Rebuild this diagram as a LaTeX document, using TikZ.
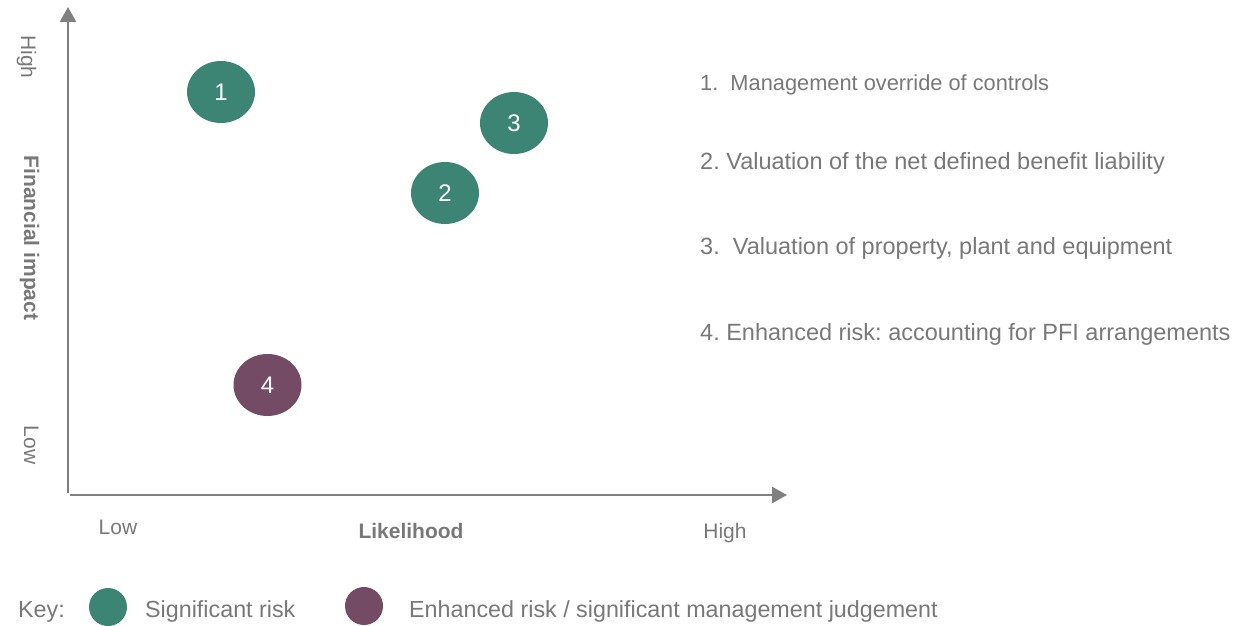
\documentclass[tikz,border=0pt]{standalone}
\usepackage{fontspec}
\setmainfont{Liberation Sans}
\frenchspacing
\usetikzlibrary{shapes.geometric,arrows.meta}
\definecolor{teal}{HTML}{3C8474}
\definecolor{plum}{HTML}{734B65}
\definecolor{txt}{HTML}{787878}
\definecolor{axis}{HTML}{808080}
\begin{document}
\begin{tikzpicture}[x=1pt,y=-1pt,
  lbl/.style={text=txt,font=\fontsize{21}{25}\selectfont,inner sep=0pt},
  item/.style={lbl,anchor=base west,font=\fontsize{23.5}{27}\selectfont},
  keytxt/.style={lbl,anchor=base west,font=\fontsize{23.3}{27}\selectfont},
  vlbl/.style={lbl,rotate=-90,anchor=base},
  risk/.style={ellipse,minimum width=68pt,minimum height=62pt,inner sep=0pt,text=white,font=\fontsize{24}{28}\selectfont},
  sig/.style={risk,fill=teal},
  enh/.style={risk,fill=plum},
  keydot/.style={circle,minimum size=38pt,inner sep=0pt},
  axisline/.style={draw=axis,line width=2.6pt,-{Triangle[length=15pt,width=16pt]}}]
\useasboundingbox (0,0) rectangle (1242,626);
% axes
\coordinate (yfoot) at (68,493);
\coordinate (ytop) at (68,7);
\coordinate (xfoot) at (70,495);
\coordinate (xend) at (787,495);
\draw[axisline] (yfoot) -- (ytop);
\draw[axisline] (xfoot) -- (xend);
% axis labels
\node[vlbl] (yhigh) at (21,57) {High};
\node[vlbl] (ylow) at (24,445) {Low};
\node[vlbl,font=\fontsize{21}{25}\selectfont\bfseries] (ytitle) at (24,238) {Financial impact};
\node[lbl,anchor=base] (xlow) at (118,534) {Low};
\node[lbl,anchor=base,font=\fontsize{21}{25}\selectfont\bfseries] (xtitle) at (411,538) {Likelihood};
\node[lbl,anchor=base] (xhigh) at (725,538) {High};
% risks
\node[sig] (r1) at (221,92) {1};
\node[sig] (r3) at (514,123) {3};
\node[sig] (r2) at (445,193) {2};
\node[enh] (r4) at (267.5,385) {4};
% list
\node[item,font=\fontsize{21.8}{25}\selectfont] (l1) at (700,90) {1.\ \ Management override of controls};
\node[item] (l2) at (700,169) {2. Valuation of the net defined benefit liability};
\node[item] (l3) at (700,254) {3.\ \ Valuation of property, plant and equipment};
\node[item] (l4) at (700,340) {4. Enhanced risk: accounting for PFI arrangements};
% key
\node[keytxt] (key) at (18,617) {Key:};
\node[keydot,fill=teal] (k1) at (108,607) {};
\node[keytxt] (k1t) at (145,617) {Significant risk};
\node[keydot,fill=plum] (k2) at (364,606) {};
\node[keytxt] (k2t) at (409,617) {Enhanced risk / significant management judgement};
\end{tikzpicture}
\end{document}
